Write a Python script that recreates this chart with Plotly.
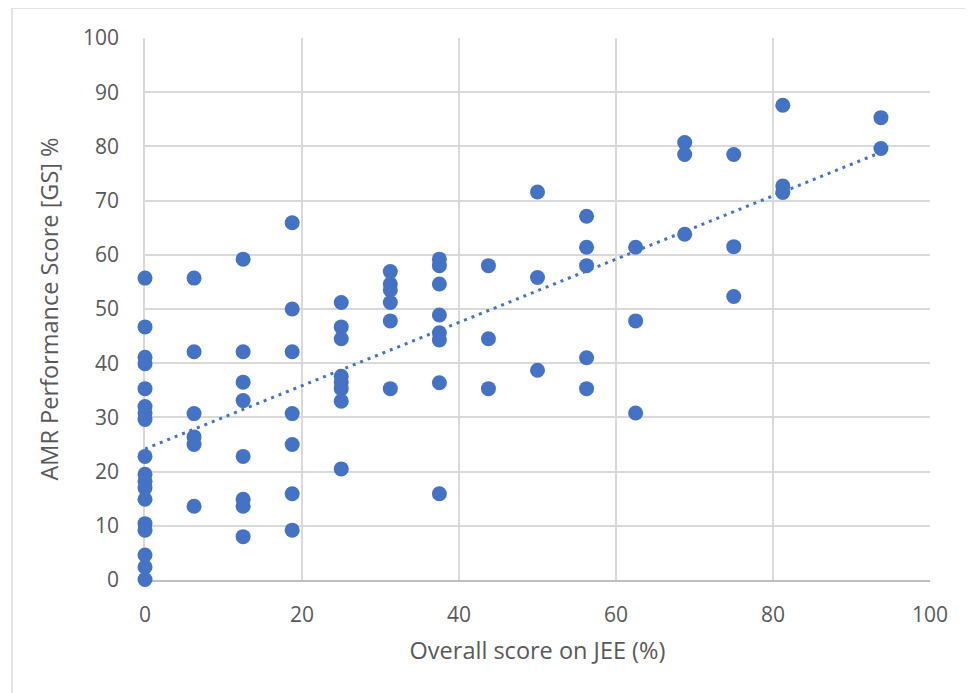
import numpy as np
import plotly.graph_objects as go

# JEE overall score (%) per country and matching AMR performance score [GS] %
jee_score = (
    [0.0] * 18
    + [6.25] * 6
    + [12.5] * 8
    + [18.75] * 7
    + [25.0] * 8
    + [31.25] * 6
    + [37.5] * 8
    + [43.75] * 3
    + [50.0] * 3
    + [56.25] * 5
    + [62.5] * 3
    + [68.75] * 3
    + [75.0] * 3
    + [81.25] * 3
    + [93.75] * 2
)
amr_score = (
    [55.7, 46.7, 41.1, 39.9, 35.3, 32.0, 30.8, 29.6, 22.8, 19.5, 18.2, 17.0, 14.9, 10.4, 9.2, 4.6, 2.4, 0.1]
    + [55.7, 42.1, 30.7, 26.4, 25.0, 13.6]
    + [59.2, 42.1, 36.5, 33.1, 22.8, 14.9, 13.6, 8.0]
    + [65.9, 50.0, 42.1, 30.7, 25.0, 15.9, 9.2]
    + [51.2, 46.7, 44.5, 37.6, 36.5, 35.3, 33.0, 20.5]
    + [56.9, 54.6, 53.5, 51.2, 47.8, 35.3]
    + [59.2, 58.0, 54.6, 48.9, 45.6, 44.3, 36.4, 15.9]
    + [58.0, 44.5, 35.3]
    + [71.6, 55.8, 38.7]
    + [67.1, 61.4, 58.0, 41.0, 35.3]
    + [61.4, 47.8, 30.8]
    + [80.7, 78.5, 63.8]
    + [78.5, 61.5, 52.3]
    + [87.6, 72.7, 71.5]
    + [85.3, 79.6]
)
x_title = "Overall score on JEE (%)"
y_title = "AMR Performance Score [GS] %"

x = np.array(jee_score)
y = np.array(amr_score)
slope, intercept = np.polyfit(x, y, 1)
tx = np.array([x.min(), x.max()])
ty = slope * tx + intercept

BLUE = "#4472C4"
TXT = "#595959"
GRID = "#D9D9D9"
FONT = "Open Sans"

fig = go.Figure()
fig.add_trace(go.Scatter(
    x=x, y=y, mode="markers", cliponaxis=False,
    marker=dict(color=BLUE, size=15, line=dict(width=0)),
    showlegend=False, hoverinfo="x+y",
))
fig.add_trace(go.Scatter(
    x=tx, y=ty, mode="lines", cliponaxis=False,
    line=dict(color=BLUE, width=3, dash="3px,5px"),
    showlegend=False, hoverinfo="skip",
))

fig.update_layout(
    width=965, height=685,
    margin=dict(l=137, r=43, t=30, b=113),
    paper_bgcolor="white", plot_bgcolor="white",
    font=dict(family=FONT, color=TXT, size=21),
    shapes=[dict(type="rect", xref="paper", yref="paper",
                 x0=-0.1694, x1=1.2, y0=-0.3, y1=1.0554,
                 line=dict(color=GRID, width=1.5), layer="below")],
)
fig.update_xaxes(
    range=[0, 100], tickvals=[0, 20, 40, 60, 80, 100],
    showgrid=True, gridcolor=GRID, gridwidth=1.5,
    zeroline=False, showline=True, linecolor="#BFBFBF", linewidth=1.5, mirror=False,
    layer="below traces",
    ticks="", ticklabelstandoff=15,
    tickfont=dict(family=FONT, size=21, color=TXT),
    title=dict(text=x_title, font=dict(family=FONT, size=23.5, color=TXT), standoff=16),
)
fig.update_yaxes(
    range=[0, 100], tickvals=list(range(0, 101, 10)),
    showgrid=True, gridcolor=GRID, gridwidth=1.5,
    zeroline=False, showline=True, linecolor=GRID, linewidth=1.5,
    layer="below traces",
    ticks="", ticklabelstandoff=20,
    tickfont=dict(family=FONT, size=21, color=TXT),
    title=dict(text=y_title, font=dict(family=FONT, size=23.5, color=TXT), standoff=18),
)

fig.write_html("out.html")
